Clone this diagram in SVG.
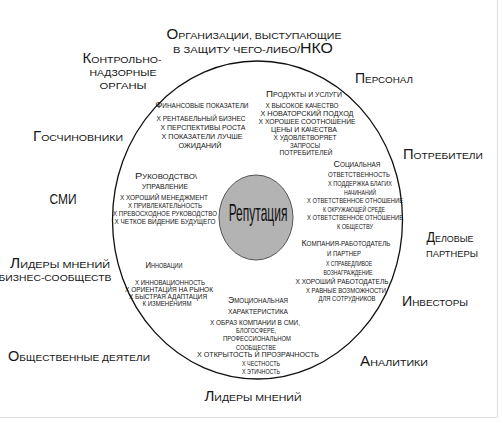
<svg xmlns="http://www.w3.org/2000/svg" width="503" height="423" viewBox="0 0 503 423">
<style>
text{font-family:"Liberation Sans",Arial,sans-serif;fill:#161616;text-anchor:middle;text-transform:uppercase}
.o{font-size:9.8px}
.o .c{font-size:14px}
.s{font-size:6.5px}
.t{font-size:6.7px}
.t .c{font-size:9.3px}
.rep{font-size:24px;text-transform:none;fill:#111}
</style>
<rect width="503" height="423" fill="#fff"/>
<g id="frame" stroke="#e2e2e2" stroke-width="1.2" fill="none">
<line x1="497.5" y1="0" x2="497.5" y2="417.5"/>
<line x1="0" y1="417.5" x2="497.5" y2="417.5"/>
</g>
<g id="connectors"></g>
<g id="outer-ring"><ellipse cx="257.5" cy="220" rx="145" ry="159" fill="none" stroke="#111" stroke-width="1.3"/></g>
<g id="reputation">
<ellipse cx="256" cy="217.5" rx="37" ry="42.5" fill="#b3b3b3" stroke="#555" stroke-width="1"/>
<text class="rep" x="0" y="0" transform="translate(258,221) scale(0.5,1)">Репутация</text>
</g>
<g id="stakeholders">
<text class="o" x="254" y="39" textLength="175" lengthAdjust="spacingAndGlyphs"><tspan class="c">О</tspan>рганизации, выступающие</text>
<text class="o" x="253" y="53" textLength="160" lengthAdjust="spacingAndGlyphs">в защиту чего-либо/<tspan class="c">НКО</tspan></text>
<text class="o" x="122" y="63" textLength="79" lengthAdjust="spacingAndGlyphs"><tspan class="c">К</tspan>онтрольно-</text>
<text class="o" x="123" y="76" textLength="67" lengthAdjust="spacingAndGlyphs">надзорные</text>
<text class="o" x="123" y="89" textLength="47" lengthAdjust="spacingAndGlyphs">органы</text>
<text class="o" x="384" y="83" textLength="58" lengthAdjust="spacingAndGlyphs"><tspan class="c">П</tspan>ерсонал</text>
<text class="o" x="78" y="141" textLength="90" lengthAdjust="spacingAndGlyphs"><tspan class="c">Г</tspan>осчиновники</text>
<text class="o" x="443" y="159" textLength="80" lengthAdjust="spacingAndGlyphs"><tspan class="c">П</tspan>отребители</text>
<text class="o" x="63" y="204" textLength="27" lengthAdjust="spacingAndGlyphs"><tspan class="c">СМИ</tspan></text>
<text class="o" x="450" y="242" textLength="47" lengthAdjust="spacingAndGlyphs"><tspan class="c">Д</tspan>еловые</text>
<text class="o" x="452" y="257" textLength="52" lengthAdjust="spacingAndGlyphs">партнеры</text>
<text class="o" x="60" y="268" textLength="100" lengthAdjust="spacingAndGlyphs"><tspan class="c">Л</tspan>идеры мнений</text>
<text class="o" x="55" y="281" textLength="113" lengthAdjust="spacingAndGlyphs">бизнес-сообществ</text>
<text class="o" x="435" y="306" textLength="66" lengthAdjust="spacingAndGlyphs"><tspan class="c">И</tspan>нвесторы</text>
<text class="o" x="79" y="361" textLength="142" lengthAdjust="spacingAndGlyphs"><tspan class="c">О</tspan>бщественные деятели</text>
<text class="o" x="394" y="366" textLength="68" lengthAdjust="spacingAndGlyphs"><tspan class="c">А</tspan>налитики</text>
<text class="o" x="253" y="401" textLength="97" lengthAdjust="spacingAndGlyphs"><tspan class="c">Л</tspan>идеры мнений</text>
</g>
<g id="financial">
<text class="t" x="202" y="108" textLength="93" lengthAdjust="spacingAndGlyphs"><tspan class="c">Ф</tspan>инансовые показатели</text>
<text class="s" x="201" y="121" textLength="89" lengthAdjust="spacingAndGlyphs">x рентабельный бизнес</text>
<text class="s" x="203" y="130" textLength="85" lengthAdjust="spacingAndGlyphs">x перспективы роста</text>
<text class="s" x="202" y="139" textLength="81" lengthAdjust="spacingAndGlyphs">x показатели лучше</text>
<text class="s" x="200" y="148" textLength="43" lengthAdjust="spacingAndGlyphs">ожиданий</text>
</g>
<g id="products">
<text class="t" x="304" y="97" textLength="76" lengthAdjust="spacingAndGlyphs"><tspan class="c">П</tspan>родукты и услуги</text>
<text class="s" x="302" y="108" textLength="73" lengthAdjust="spacingAndGlyphs">x высокое качество</text>
<text class="s" x="307" y="116" textLength="93" lengthAdjust="spacingAndGlyphs">x новаторский подход</text>
<text class="s" x="307" y="124" textLength="97" lengthAdjust="spacingAndGlyphs">x хорошее соотношение</text>
<text class="s" x="304" y="132" textLength="66" lengthAdjust="spacingAndGlyphs">цены и качества</text>
<text class="s" x="305" y="140" textLength="63" lengthAdjust="spacingAndGlyphs">x удовлетворяет</text>
<text class="s" x="305" y="148" textLength="30" lengthAdjust="spacingAndGlyphs">запросы</text>
<text class="s" x="306" y="155" textLength="53" lengthAdjust="spacingAndGlyphs">потребителей</text>
</g>
<g id="leadership">
<text class="t" x="166" y="179" textLength="62" lengthAdjust="spacingAndGlyphs"><tspan class="c">Р</tspan>уководство\</text>
<text class="t" x="165" y="189" textLength="46" lengthAdjust="spacingAndGlyphs">управление</text>
<text class="s" x="164" y="200" textLength="88" lengthAdjust="spacingAndGlyphs">x хороший менеджмент</text>
<text class="s" x="165" y="208" textLength="74" lengthAdjust="spacingAndGlyphs">x привлекательность</text>
<text class="s" x="165" y="216" textLength="104" lengthAdjust="spacingAndGlyphs">x превосходное руководство</text>
<text class="s" x="165" y="224" textLength="101" lengthAdjust="spacingAndGlyphs">x четкое видение будущего</text>
</g>
<g id="social">
<text class="t" x="357" y="167" textLength="47" lengthAdjust="spacingAndGlyphs"><tspan class="c">С</tspan>оциальная</text>
<text class="t" x="359" y="177" textLength="62" lengthAdjust="spacingAndGlyphs">ответственность</text>
<text class="s" x="360" y="186" textLength="64" lengthAdjust="spacingAndGlyphs">x поддержка благих</text>
<text class="s" x="360" y="194.5" textLength="32" lengthAdjust="spacingAndGlyphs">начинаний</text>
<text class="s" x="355" y="203" textLength="96" lengthAdjust="spacingAndGlyphs">x ответственное отношение</text>
<text class="s" x="354" y="211.5" textLength="62" lengthAdjust="spacingAndGlyphs">к окружающей среде</text>
<text class="s" x="355" y="220" textLength="96" lengthAdjust="spacingAndGlyphs">x ответственное отношение</text>
<text class="s" x="355" y="228.5" textLength="36" lengthAdjust="spacingAndGlyphs">к обществу</text>
</g>
<g id="employer">
<text class="t" x="346" y="246" textLength="89" lengthAdjust="spacingAndGlyphs"><tspan class="c">К</tspan>омпания-работодатель</text>
<text class="t" x="344" y="256" textLength="34" lengthAdjust="spacingAndGlyphs">и партнер</text>
<text class="s" x="349" y="266" textLength="46" lengthAdjust="spacingAndGlyphs">x справедливое</text>
<text class="s" x="348" y="275" textLength="49" lengthAdjust="spacingAndGlyphs">вознаграждение</text>
<text class="s" x="342" y="284" textLength="93" lengthAdjust="spacingAndGlyphs">x хороший работодатель</text>
<text class="s" x="346" y="293" textLength="80" lengthAdjust="spacingAndGlyphs">x равные возможности</text>
<text class="s" x="347" y="301" textLength="57" lengthAdjust="spacingAndGlyphs">для сотрудников</text>
</g>
<g id="innovation">
<text class="t" x="164" y="268" textLength="37" lengthAdjust="spacingAndGlyphs"><tspan class="c">И</tspan>нновации</text>
<text class="s" x="170" y="285" textLength="70" lengthAdjust="spacingAndGlyphs">x инновационность</text>
<text class="s" x="169" y="292" textLength="88" lengthAdjust="spacingAndGlyphs">x ориентация на рынок</text>
<text class="s" x="168" y="299" textLength="78" lengthAdjust="spacingAndGlyphs">x быстрая адаптация</text>
<text class="s" x="167" y="306" textLength="49" lengthAdjust="spacingAndGlyphs">к изменениям</text>
</g>
<g id="emotional">
<text class="t" x="258" y="303" textLength="60" lengthAdjust="spacingAndGlyphs"><tspan class="c">Э</tspan>моциональная</text>
<text class="t" x="258" y="314" textLength="60" lengthAdjust="spacingAndGlyphs">характеристика</text>
<text class="s" x="255" y="324.5" textLength="90" lengthAdjust="spacingAndGlyphs">x образ компании в СМИ,</text>
<text class="s" x="256" y="333" textLength="40" lengthAdjust="spacingAndGlyphs">блогосфере,</text>
<text class="s" x="257" y="341" textLength="68" lengthAdjust="spacingAndGlyphs">профессиональном</text>
<text class="s" x="256" y="350" textLength="40" lengthAdjust="spacingAndGlyphs">сообществе</text>
<text class="s" x="258" y="357" textLength="122" lengthAdjust="spacingAndGlyphs">x открытость и прозрачность</text>
<text class="s" x="261" y="366" textLength="38" lengthAdjust="spacingAndGlyphs">x честность</text>
<text class="s" x="261" y="374" textLength="38" lengthAdjust="spacingAndGlyphs">x этичность</text>
</g>
</svg>
